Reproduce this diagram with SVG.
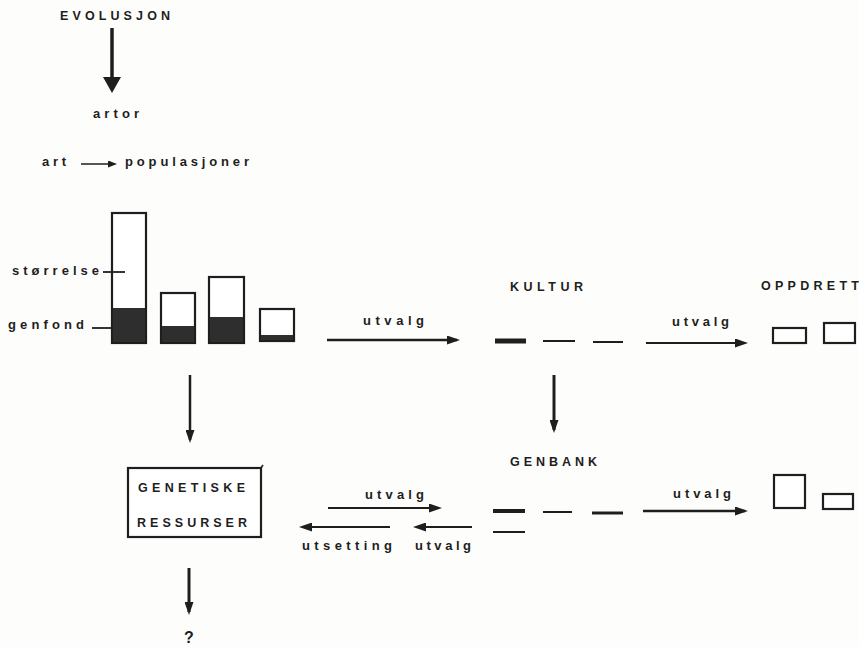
<svg xmlns="http://www.w3.org/2000/svg" width="859" height="647" viewBox="0 0 859 647">
<style>
text{font-family:"Liberation Sans",Arial,sans-serif;font-weight:bold;fill:#1e1e1e;font-size:13px}
.big{font-size:12.5px}
.q{font-size:16px}
.ln{stroke:#1e1e1e;fill:none;stroke-linecap:butt}
.box{stroke:#1e1e1e;fill:#fff;stroke-width:2.2}
.dk{fill:#2e2e2e;stroke:none}
</style>
<defs>
<marker id="ah" markerUnits="userSpaceOnUse" markerWidth="13" markerHeight="9" refX="10" refY="4.5" orient="auto">
<path d="M0,0 L13,4.5 L0,9 z" fill="#1e1e1e"/>
</marker>
<marker id="ahs" markerUnits="userSpaceOnUse" markerWidth="9" markerHeight="7" refX="7" refY="3.5" orient="auto">
<path d="M0,0 L9,3.5 L0,7 z" fill="#1e1e1e"/>
</marker>
<marker id="ahb" markerUnits="userSpaceOnUse" markerWidth="16" markerHeight="18" refX="12" refY="9" orient="auto">
<path d="M0,0 L16,9 L0,18 z" fill="#1e1e1e"/>
</marker>
</defs>
<rect width="859" height="647" fill="#fdfdfb"/>

<g id="evolusjon"><text class="big" x="60" y="20" textLength="110" lengthAdjust="spacing">EVOLUSJON</text></g>
<g id="artor"><text x="93" y="118" textLength="46" lengthAdjust="spacing">artor</text></g>
<g id="art"><text x="42" y="166" textLength="24" lengthAdjust="spacing">art</text></g>
<g id="populasjoner"><text x="125" y="166" textLength="124" lengthAdjust="spacing">populasjoner</text></g>

<g id="bars">
<rect class="box" x="112" y="213" width="34" height="130"/>
<rect class="dk" x="113" y="308" width="32" height="34"/>
<rect class="box" x="161" y="293" width="34" height="50"/>
<rect class="dk" x="162" y="326" width="32" height="16"/>
<rect class="box" x="209" y="277" width="35" height="66"/>
<rect class="dk" x="210" y="317" width="33" height="25"/>
<rect class="box" x="260" y="309" width="34" height="32"/>
<rect class="dk" x="261" y="335" width="32" height="5"/>
</g>
<g id="storrelse"><text x="12" y="275" textLength="87" lengthAdjust="spacing">størrelse</text></g>
<g id="genfond"><text x="8" y="329" textLength="76" lengthAdjust="spacing">genfond</text></g>

<g id="kultur"><text class="big" x="510" y="291" textLength="73" lengthAdjust="spacing">KULTUR</text>
<line class="ln" x1="495" y1="341" x2="526" y2="341" stroke-width="5"/>
<line class="ln" x1="543" y1="341" x2="575" y2="341" stroke-width="2"/>
<line class="ln" x1="593" y1="342" x2="623" y2="342" stroke-width="2"/>
</g>

<g id="oppdrett"><text class="big" x="761" y="290" textLength="98" lengthAdjust="spacing">OPPDRETT</text>
<rect class="box" x="773" y="328" width="33" height="15" fill="none"/>
<rect class="box" x="824" y="323" width="31" height="20" fill="none"/>
</g>

<g id="genbank"><text class="big" x="510" y="466" textLength="87" lengthAdjust="spacing">GENBANK</text>
<line class="ln" x1="493" y1="511" x2="525" y2="511" stroke-width="4"/>
<line class="ln" x1="543" y1="512" x2="572" y2="512" stroke-width="2"/>
<line class="ln" x1="592" y1="513" x2="623" y2="513" stroke-width="3"/>
<line class="ln" x1="493" y1="532" x2="525" y2="532" stroke-width="2"/>
</g>

<g id="genbank-out">
<rect class="box" x="774" y="475" width="31" height="33" fill="none"/>
<rect class="box" x="823" y="494" width="30" height="15" fill="none"/>
</g>

<g id="genetiske">
<rect class="box" x="128" y="468" width="133" height="69"/>
<line class="ln" x1="261" y1="468" x2="263" y2="465" stroke-width="1.5"/>
<text class="big" x="138" y="492" textLength="107" lengthAdjust="spacing">GENETISKE</text>
<text class="big" x="137" y="527" textLength="110" lengthAdjust="spacing">RESSURSER</text>
</g>

<g id="question"><text class="q" x="184" y="643">?</text></g>

<g id="labels">
<text x="363" y="325" textLength="61" lengthAdjust="spacing">utvalg</text>
<text x="672" y="326" textLength="57" lengthAdjust="spacing">utvalg</text>
<text x="365" y="499" textLength="59" lengthAdjust="spacing">utvalg</text>
<text x="673" y="498" textLength="58" lengthAdjust="spacing">utvalg</text>
<text x="302" y="550" textLength="90" lengthAdjust="spacing">utsetting</text>
<text x="415" y="550" textLength="56" lengthAdjust="spacing">utvalg</text>
</g>

<g id="connectors">
<line class="ln" x1="112" y1="28" x2="112" y2="89" stroke-width="3.5" marker-end="url(#ahb)"/>
<line class="ln" x1="81" y1="164" x2="115" y2="164" stroke-width="1.5" marker-end="url(#ahs)"/>
<line class="ln" x1="103" y1="272" x2="125" y2="272" stroke-width="1.8"/>
<line class="ln" x1="92" y1="328" x2="112" y2="328" stroke-width="1.8"/>
<line class="ln" x1="327" y1="340" x2="457" y2="340" stroke-width="2.5" marker-end="url(#ah)"/>
<line class="ln" x1="646" y1="343" x2="745" y2="343" stroke-width="2.2" marker-end="url(#ah)"/>
<line class="ln" x1="554" y1="375" x2="554" y2="430" stroke-width="3" marker-end="url(#ah)"/>
<line class="ln" x1="190" y1="375" x2="190" y2="440" stroke-width="2.5" marker-end="url(#ah)"/>
<line class="ln" x1="328" y1="508" x2="439" y2="508" stroke-width="2" marker-end="url(#ah)"/>
<line class="ln" x1="390" y1="527" x2="302" y2="527" stroke-width="2" marker-end="url(#ah)"/>
<line class="ln" x1="472" y1="527" x2="416" y2="527" stroke-width="2.2" marker-end="url(#ah)"/>
<line class="ln" x1="643" y1="511" x2="745" y2="511" stroke-width="2.5" marker-end="url(#ah)"/>
<line class="ln" x1="189" y1="568" x2="189" y2="612" stroke-width="3" marker-end="url(#ah)"/>
</g>
</svg>
